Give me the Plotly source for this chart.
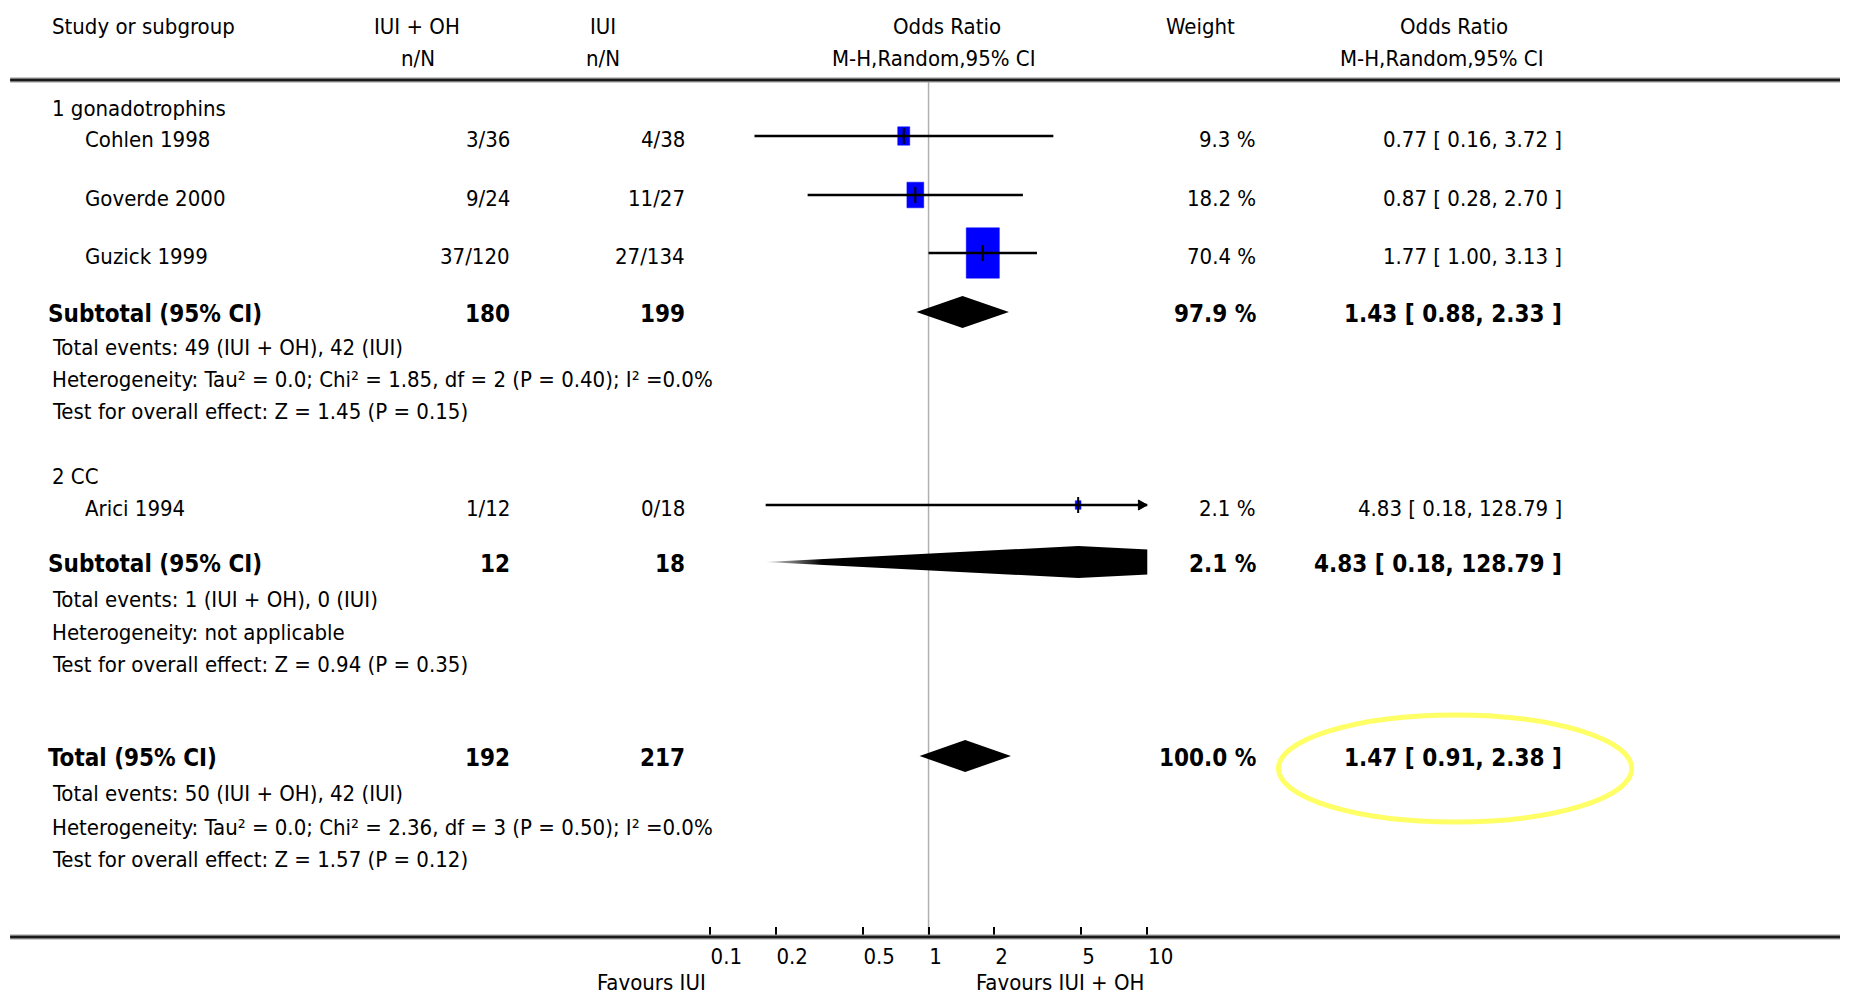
import numpy as np
import plotly.graph_objects as go

# ---------------- data ----------------
group_names = ["1 gonadotrophins", "2 CC"]
study_names = ["Cohlen 1998", "Goverde 2000", "Guzick 1999", "Arici 1994"]
study_group = [0, 0, 0, 1]
events_oh = [3, 9, 37, 1]
total_oh = [36, 24, 120, 12]
events_iui = [4, 11, 27, 0]
total_iui = [38, 27, 134, 18]
study_or = [0.77, 0.87, 1.77, 4.83]
study_lo = [0.16, 0.28, 1.00, 0.18]
study_hi = [3.72, 2.70, 3.13, 128.79]
study_weight = [9.3, 18.2, 70.4, 2.1]

sub_n_oh = [180, 12]
sub_n_iui = [199, 18]
sub_weight = [97.9, 2.1]
sub_or = [1.43, 4.83]
sub_lo = [0.88, 0.18]
sub_hi = [2.33, 128.79]
sub_events_text = ["Total events: 49 (IUI + OH), 42 (IUI)",
                   "Total events: 1 (IUI + OH), 0 (IUI)"]
sub_het_text = ["Heterogeneity: Tau² = 0.0; Chi² = 1.85, df = 2 (P = 0.40); I² =0.0%",
                "Heterogeneity: not applicable"]
sub_test_text = ["Test for overall effect: Z = 1.45 (P = 0.15)",
                 "Test for overall effect: Z = 0.94 (P = 0.35)"]

total_n_oh = 192
total_n_iui = 217
total_weight = 100.0
total_or = 1.47
total_lo = 0.91
total_hi = 2.38
total_events_text = "Total events: 50 (IUI + OH), 42 (IUI)"
total_het_text = "Heterogeneity: Tau² = 0.0; Chi² = 2.36, df = 3 (P = 0.50); I² =0.0%"
total_test_text = "Test for overall effect: Z = 1.57 (P = 0.12)"

tick_vals = [0.1, 0.2, 0.5, 1, 2, 5, 10]
tick_text = ["0.1", "0.2", "0.5", "1", "2", "5", "10"]
left_label = "Favours IUI"
right_label = "Favours IUI + OH"

# ---------------- layout constants (target picture pixel coordinates) ----------------
OFF = 8                      # browser body margin
SX = 0.985                   # horizontal scale observed between page and picture
FW, FH = 1858, 986           # figure size inside the page
FONT = "DejaVu Sans Condensed, DejaVu Sans, sans-serif"
FS = 22
FSB = 24


def fx(x):
    """picture x -> figure pixel x"""
    return x / SX - OFF


def px(x):
    return fx(x) / FW


def py_paper(y):
    return (OFF + FH - y) / FH


AX_L, AX_R = 709, 1146       # picture x of 0.1 and 10
X_RANGE = [-1, 1]
X_DOM = [px(AX_L), px(AX_R)]
PPD = (fx(AX_R) - fx(AX_L)) / (X_RANGE[1] - X_RANGE[0])   # figure pixels per decade

HEADER_LINE_Y = 80
AXIS_LINE_Y = 937
TICK_LEN = 11

group_rows = [108, 476]
study_rows = [136, 195, 253, 505]
sub_rows = [312, 562]
sub_info_rows = [[347, 379, 411], [599, 632, 664]]
total_row = 756
total_info_rows = [793, 827, 859]

COL_NAME = 50
COL_STUDY = 83
COL_OH = 511
COL_IUI = 686
COL_W = 1257
COL_CI = 1562


def fmt_ci(o, l, h):
    return f"{o:.2f} [ {l:.2f}, {h:.2f} ]"


fig = go.Figure()
ann = []


def text(x, y, s, anchor="left", bold=False, size=None):
    ann.append(dict(x=px(x), y=y, xref="paper", yref="y", text=("<b>%s</b>" % s) if bold else s,
                    showarrow=False, xanchor=anchor, yanchor="middle",
                    font=dict(family=FONT, size=size or (FSB if bold else FS), color="black")))


# header
text(50, 26, "Study or subgroup")
text(416, 26, "IUI + OH", "center")
text(417, 58, "n/N", "center")
text(602, 26, "IUI", "center")
text(602, 58, "n/N", "center")
text(946, 26, "Odds Ratio", "center")
text(933, 58, "M-H,Random,95% CI", "center")
text(1199, 26, "Weight", "center")
text(1452, 26, "Odds Ratio", "center")
text(1440, 58, "M-H,Random,95% CI", "center")

# reference line at OR = 1
fig.add_trace(go.Scatter(x=[1, 1], y=[HEADER_LINE_Y, AXIS_LINE_Y], mode="lines",
                         line=dict(color="#b0b0b0", width=1.5), hoverinfo="skip"))

# groups
for g, gname in enumerate(group_names):
    text(COL_NAME, group_rows[g], gname)

# studies
for i, name in enumerate(study_names):
    y = study_rows[i]
    ty = y + 3
    text(COL_STUDY, ty, name)
    text(COL_OH, ty, f"{events_oh[i]}/{total_oh[i]}", "right")
    text(COL_IUI, ty, f"{events_iui[i]}/{total_iui[i]}", "right")
    text(COL_W, ty, f"{study_weight[i]:.1f} %", "right")
    text(COL_CI, ty, fmt_ci(study_or[i], study_lo[i], study_hi[i]), "right")
    o = study_or[i]
    # weight box
    wpx = 4.0 * np.sqrt(study_weight[i])
    hpx = 1.5 * wpx
    f = 10 ** (wpx / 2 / PPD)
    fig.add_trace(go.Scatter(x=[o / f, o * f, o * f, o / f, o / f],
                             y=[y - hpx / 2, y - hpx / 2, y + hpx / 2, y + hpx / 2, y - hpx / 2],
                             mode="lines", fill="toself", fillcolor="#0000ff",
                             line=dict(color="#0000ff", width=0.5), hoverinfo="skip"))
    # CI line
    fig.add_trace(go.Scatter(x=[study_lo[i], study_hi[i]], y=[y, y], mode="lines",
                             line=dict(color="black", width=2.6), hoverinfo="skip"))
    # centre tick
    fig.add_trace(go.Scatter(x=[o, o], y=[y - 8, y + 8], mode="lines",
                             line=dict(color="black", width=2), hoverinfo="skip"))
    # arrow if CI runs beyond the axis
    if study_hi[i] > tick_vals[-1]:
        r = tick_vals[-1]
        b = r / 10 ** (9 / PPD)
        fig.add_trace(go.Scatter(x=[b, r, b, b], y=[y - 5, y, y + 5, y - 5], mode="lines",
                                 fill="toself", fillcolor="black",
                                 line=dict(color="black", width=1), hoverinfo="skip"))


def diamond(o, l, h, y, half=16, grad=False):
    kw = {}
    if grad:
        kw["fillgradient"] = dict(type="horizontal",
                                  colorscale=[[0, "#dcdcdc"], [0.09, "#000000"], [1, "#000000"]])
    fig.add_trace(go.Scatter(x=[l, o, h, o, l], y=[y, y - half, y, y + half, y],
                             mode="lines", fill="toself", fillcolor="black",
                             line=dict(color="black", width=0), hoverinfo="skip", **kw))


# subtotals
for g in range(len(group_names)):
    y = sub_rows[g]
    ty = y + 2
    text(COL_NAME - 4, ty, "Subtotal (95% CI)", bold=True)
    text(COL_OH, ty, str(sub_n_oh[g]), "right", bold=True)
    text(COL_IUI, ty, str(sub_n_iui[g]), "right", bold=True)
    text(COL_W, ty, f"{sub_weight[g]:.1f} %", "right", bold=True)
    text(COL_CI, ty, fmt_ci(sub_or[g], sub_lo[g], sub_hi[g]), "right", bold=True)
    diamond(sub_or[g], sub_lo[g], sub_hi[g], y, grad=(sub_hi[g] > tick_vals[-1]))
    for yy, s in zip(sub_info_rows[g], [sub_events_text[g], sub_het_text[g], sub_test_text[g]]):
        text(COL_NAME, yy, s)

# total
ty = total_row + 2
text(COL_NAME - 4, ty, "Total (95% CI)", bold=True)
text(COL_OH, ty, str(total_n_oh), "right", bold=True)
text(COL_IUI, ty, str(total_n_iui), "right", bold=True)
text(COL_W, ty, f"{total_weight:.1f} %", "right", bold=True)
text(COL_CI, ty, fmt_ci(total_or, total_lo, total_hi), "right", bold=True)
diamond(total_or, total_lo, total_hi, total_row)
for yy, s in zip(total_info_rows, [total_events_text, total_het_text, total_test_text]):
    text(COL_NAME, yy, s)

# favours labels
text(651, 982, left_label, "center")
text(1059, 982, right_label, "center")

shapes = []
for yy in [HEADER_LINE_Y, AXIS_LINE_Y]:
    shapes.append(dict(type="line", xref="paper", yref="y", x0=px(10), x1=1, y0=yy, y1=yy,
                       line=dict(color="#9a9a9a", width=5)))
    shapes.append(dict(type="line", xref="paper", yref="y", x0=px(10), x1=1, y0=yy, y1=yy,
                       line=dict(color="#1a1a1a", width=2.5)))
# highlight ellipse
shapes.append(dict(type="circle", xref="paper", yref="y", x0=px(1277), x1=px(1630), y0=715, y1=822,
                   line=dict(color="#ffff66", width=5)))

fig.update_layout(
    width=FW, height=FH, autosize=False, margin=dict(l=0, r=0, t=0, b=0, pad=0),
    paper_bgcolor="white", plot_bgcolor="rgba(0,0,0,0)", showlegend=False,
    annotations=ann, shapes=shapes,
    xaxis=dict(type="log", range=X_RANGE, domain=X_DOM, anchor="free",
               position=py_paper(AXIS_LINE_Y - TICK_LEN),
               tickvals=tick_vals, ticktext=tick_text, ticks="outside", ticklen=TICK_LEN,
               tickwidth=1.5, tickcolor="black", ticklabelposition="outside right",
               ticklabelstandoff=11,
               tickfont=dict(family=FONT, size=FS, color="black"),
               showgrid=False, zeroline=False, showline=False, fixedrange=True),
    yaxis=dict(range=[OFF + FH, OFF], domain=[0, 1], visible=False, fixedrange=True),
)

fig.write_html("out.html", config={"responsive": False, "displayModeBar": False})
